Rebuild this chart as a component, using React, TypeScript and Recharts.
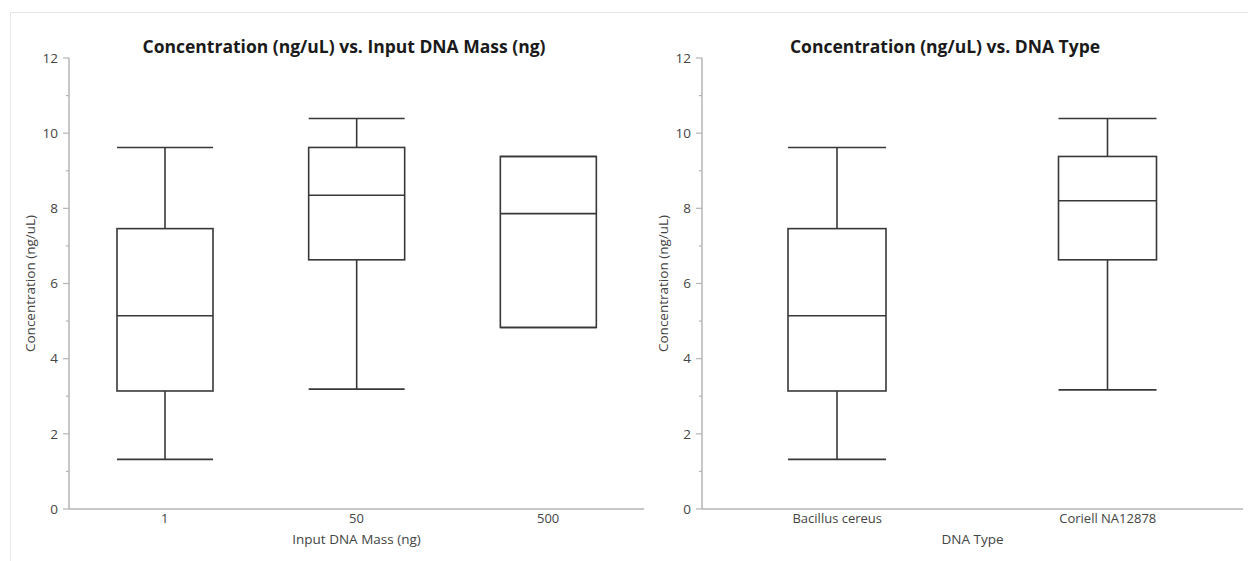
import React from "react";
import { ComposedChart, Bar, XAxis, YAxis } from "recharts";

// ─── Data ────────────────────────────────────────────────────────────────────
const massCategories = ["1", "50", "500"];
const massMin = [1.32, 3.19, 4.83];
const massQ1 = [3.14, 6.63, 4.83];
const massMedian = [5.14, 8.35, 7.86];
const massQ3 = [7.46, 9.62, 9.38];
const massMax = [9.62, 10.39, 9.38];

const typeCategories = ["Bacillus cereus", "Coriell NA12878"];
const typeMin = [1.32, 3.17];
const typeQ1 = [3.14, 6.63];
const typeMedian = [5.14, 8.2];
const typeQ3 = [7.46, 9.38];
const typeMax = [9.62, 10.39];

const yTicks = [0, 1, 2, 3, 4, 5, 6, 7, 8, 9, 10, 11, 12];

const FONT = "'Open Sans', 'Noto Sans', sans-serif";
const AXIS_COLOR = "#b4b4b4";
const BOX_COLOR = "#383838";
const LABEL_COLOR = "#444";

type BoxRow = {
  name: string;
  range: [number, number];
  min: number;
  q1: number;
  median: number;
  q3: number;
  max: number;
};

function buildRows(
  names: string[],
  mins: number[],
  q1s: number[],
  meds: number[],
  q3s: number[],
  maxs: number[]
): BoxRow[] {
  return names.map((name, i) => ({
    name,
    range: [mins[i], maxs[i]],
    min: mins[i],
    q1: q1s[i],
    median: meds[i],
    q3: q3s[i],
    max: maxs[i],
  }));
}

const massRows = buildRows(massCategories, massMin, massQ1, massMedian, massQ3, massMax);
const typeRows = buildRows(typeCategories, typeMin, typeQ1, typeMedian, typeQ3, typeMax);

// box + whiskers, positions derived from the bar rect that recharts scaled
// eslint-disable-next-line @typescript-eslint/no-explicit-any
function BoxShape(props: any) {
  const { x, y, width, height, payload } = props;
  const p = payload as BoxRow;
  const top = Math.min(y, y + height);
  const bot = Math.max(y, y + height);
  const span = p.max - p.min || 1;
  const py = (v: number) => bot - ((v - p.min) / span) * (bot - top);
  const cx = x + width / 2;
  const line = { stroke: BOX_COLOR, strokeWidth: 1.6 };
  return (
    <g>
      <line x1={cx} x2={cx} y1={py(p.max)} y2={py(p.q3)} {...line} />
      <line x1={cx} x2={cx} y1={py(p.q1)} y2={py(p.min)} {...line} />
      <line x1={x} x2={x + width} y1={py(p.max)} y2={py(p.max)} {...line} />
      <line x1={x} x2={x + width} y1={py(p.min)} y2={py(p.min)} {...line} />
      <rect x={x} y={py(p.q3)} width={width} height={py(p.q1) - py(p.q3)} fill="none" {...line} />
      <line x1={x} x2={x + width} y1={py(p.median)} y2={py(p.median)} {...line} />
    </g>
  );
}

const TICK_SIZE = 6;
const TICK_MARGIN = 5;

// major ticks labelled, odd values get a short unlabelled tick
// eslint-disable-next-line @typescript-eslint/no-explicit-any
function YTick(props: any) {
  const { x, y, payload } = props;
  const v = Number(payload.value);
  const ax = x + TICK_SIZE + TICK_MARGIN;
  const major = v % 2 === 0;
  return (
    <g>
      <line x1={ax - (major ? TICK_SIZE : 3)} x2={ax} y1={y} y2={y} stroke={AXIS_COLOR} strokeWidth={1.2} />
      {major && (
        <text x={x} y={y} dy="0.35em" textAnchor="end" fontSize={13.5} fill={LABEL_COLOR} fontFamily={FONT}>
          {v}
        </text>
      )}
    </g>
  );
}

function BoxChart({
  data,
  width,
  yAxisWidth,
  rightMargin,
  barSize,
  xTitle,
  yTitleDx,
}: {
  data: BoxRow[];
  width: number;
  yAxisWidth: number;
  rightMargin: number;
  barSize: number;
  xTitle: string;
  yTitleDx: number;
}) {
  return (
    <ComposedChart
      width={width}
      height={561}
      data={data}
      margin={{ top: 58, right: rightMargin, left: 0, bottom: 0 }}
      barSize={barSize}
    >
      <XAxis
        dataKey="name"
        axisLine={{ stroke: AXIS_COLOR, strokeWidth: 1.5 }}
        tickLine={false}
        tickSize={3}
        tickMargin={2}
        height={52}
        tick={{ fontSize: 13, fill: LABEL_COLOR, fontFamily: FONT }}
        interval={0}
        label={{ value: xTitle, position: "insideBottom", offset: 17, fontSize: 13.5, fill: LABEL_COLOR, fontFamily: FONT }}
      />
      <XAxis
        xAxisId="top"
        dataKey="name"
        orientation="top"
        height={0}
        tick={false}
        tickLine={false}
        axisLine={{ stroke: AXIS_COLOR, strokeWidth: 1.5 }}
      />
      <YAxis
        domain={[0, 12]}
        ticks={yTicks}
        interval={0}
        width={yAxisWidth}
        tickSize={TICK_SIZE}
        tickMargin={TICK_MARGIN}
        tickLine={false}
        tick={<YTick />}
        axisLine={{ stroke: AXIS_COLOR, strokeWidth: 1.5 }}
        label={{
          value: "Concentration (ng/uL)",
          angle: -90,
          position: "center",
          dx: yTitleDx,
          fontSize: 13.5,
          fill: LABEL_COLOR,
          fontFamily: FONT,
        }}
      />
      <YAxis
        yAxisId="right"
        orientation="right"
        domain={[0, 12]}
        width={0}
        tick={false}
        tickLine={false}
        axisLine={{ stroke: AXIS_COLOR, strokeWidth: 1.5 }}
      />
      <Bar dataKey="range" shape={<BoxShape />} isAnimationActive={false} />
    </ComposedChart>
  );
}

const titleStyle: React.CSSProperties = {
  position: "absolute",
  top: 35,
  transform: "translateX(-50%)",
  whiteSpace: "nowrap",
  fontFamily: FONT,
  fontWeight: 700,
  fontSize: 17.5,
  color: "#1a1a1a",
  lineHeight: "22px",
};

export default function App() {
  return (
    <div style={{ position: "absolute", left: 0, top: 0, width: 1248, height: 561, background: "#fff", overflow: "hidden" }}>
      <div
        style={{
          position: "absolute",
          left: 10,
          top: 12,
          right: -2,
          bottom: -2,
          borderLeft: "1px solid #e6e6e6",
          borderTop: "1px solid #e6e6e6",
        }}
      />
      <div style={{ position: "absolute", left: 0, top: 0 }}>
        <BoxChart
          data={massRows}
          width={650}
          yAxisWidth={69}
          rightMargin={6}
          barSize={96}
          xTitle="Input DNA Mass (ng)"
          yTitleDx={-4}
        />
      </div>
      <div style={{ position: "absolute", left: 650, top: 0 }}>
        <BoxChart
          data={typeRows}
          width={598}
          yAxisWidth={52}
          rightMargin={5}
          barSize={98}
          xTitle="DNA Type"
          yTitleDx={-13}
        />
      </div>
      <div style={{ ...titleStyle, left: 344 }}>Concentration (ng/uL) vs. Input DNA Mass (ng)</div>
      <div style={{ ...titleStyle, left: 945 }}>Concentration (ng/uL) vs. DNA Type</div>
    </div>
  );
}
